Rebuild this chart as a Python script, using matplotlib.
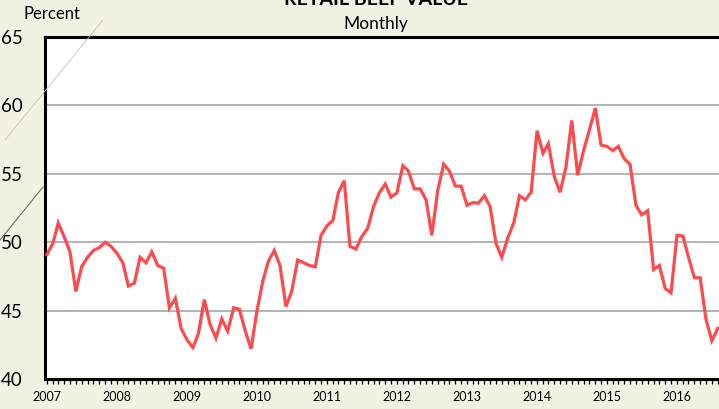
import matplotlib
matplotlib.use('Agg')
import matplotlib.pyplot as plt
import matplotlib.dates as mdates
from matplotlib.lines import Line2D
import pandas as pd
import numpy as np

plt.rcParams['font.family'] = ['Lato', 'DejaVu Sans']

# retail beef value, percent, monthly Jan 2007 - Aug 2016
v2007 = [49.1, 49.9, 51.4, 50.4, 49.3, 46.4, 48.2, 48.9, 49.4, 49.6, 50.0, 49.7]
v2008 = [49.2, 48.5, 46.8, 47.0, 48.9, 48.5, 49.3, 48.3, 48.1, 45.2, 45.9, 43.7]
v2009 = [42.85, 42.3, 43.3, 45.8, 44.0, 43.0, 44.4, 43.5, 45.2, 45.1, 43.5, 42.2]
v2010 = [45.0, 47.2, 48.6, 49.4, 48.3, 45.3, 46.4, 48.7, 48.5, 48.3, 48.2, 50.5]
v2011 = [51.2, 51.6, 53.6, 54.5, 49.7, 49.5, 50.4, 51.0, 52.6, 53.6, 54.25, 53.3]
v2012 = [53.6, 55.6, 55.2, 53.9, 53.9, 53.1, 50.5, 53.8, 55.7, 55.2, 54.1, 54.1]
v2013 = [52.7, 52.9, 52.85, 53.4, 52.6, 49.9, 48.9, 50.3, 51.4, 53.4, 53.1, 53.65]
v2014 = [58.15, 56.5, 57.2, 54.8, 53.65, 55.5, 58.9, 54.9, 56.7, 58.2, 59.8, 57.1]
v2015 = [57.0, 56.7, 57.0, 56.1, 55.7, 52.7, 52.0, 52.3, 48.0, 48.3, 46.6, 46.3]
v2016 = [50.5, 50.45, 48.9, 47.4, 47.4, 44.3, 42.8, 43.7]

values = np.array(v2007 + v2008 + v2009 + v2010 + v2011 + v2012 + v2013 + v2014 + v2015 + v2016)
dates = pd.date_range('2007-01-01', periods=len(values), freq='MS')
yticks = [40, 45, 50, 55, 60, 65]

fig = plt.figure(figsize=(7.19, 4.09), dpi=100)
fig.patch.set_facecolor('#F3F1E3')

# decorative theme lines on the left
fig.add_artist(Line2D([0, 43/719], [1 - 240/409, 1 - 187/409], color='#6E7458', lw=0.8))
fig.add_artist(Line2D([5/719, 103/719], [1 - 140/409, 1 - 20/409], color='#C9C6B0', lw=0.6))

ax = fig.add_axes([45/719, 30/409, 682/719, 342/409])
ax.set_facecolor('white')

ax.plot(dates, values, color='#FF4A4D', linewidth=2.3, solid_joinstyle='miter', zorder=3)

ax.set_ylim(40, 65)
ax.set_yticks(yticks)
ax.yaxis.grid(True, color='#A6A6A6', linewidth=1.2)
ax.set_axisbelow(True)
ax.set_xlim(pd.Timestamp('2006-12-22'), pd.Timestamp('2016-09-18'))

ax.xaxis.set_major_locator(mdates.YearLocator())
ax.xaxis.set_major_formatter(mdates.DateFormatter('%Y'))
ax.xaxis.set_minor_locator(mdates.MonthLocator())
ax.tick_params(axis='x', which='both', direction='out', length=3.5, width=0.9, labelsize=9, pad=5)
ax.tick_params(axis='y', length=0, labelsize=13.5, pad=16)

for s in ['left', 'bottom', 'top']:
    ax.spines[s].set_linewidth(2.2)
    ax.spines[s].set_color('black')
ax.spines['right'].set_visible(False)

fig.text(52/719, 1 - 14/409, 'Percent', ha='center', va='center', fontsize=12)
fig.text(376/719, 1 - 24/409, 'Monthly', ha='center', va='center', fontsize=12.5)
fig.text(376/719, 1 - 5/409, 'RETAIL BEEF VALUE', ha='center', va='baseline',
         fontsize=14, fontweight='bold')

plt.savefig('out.png', dpi=100, facecolor=fig.get_facecolor())
